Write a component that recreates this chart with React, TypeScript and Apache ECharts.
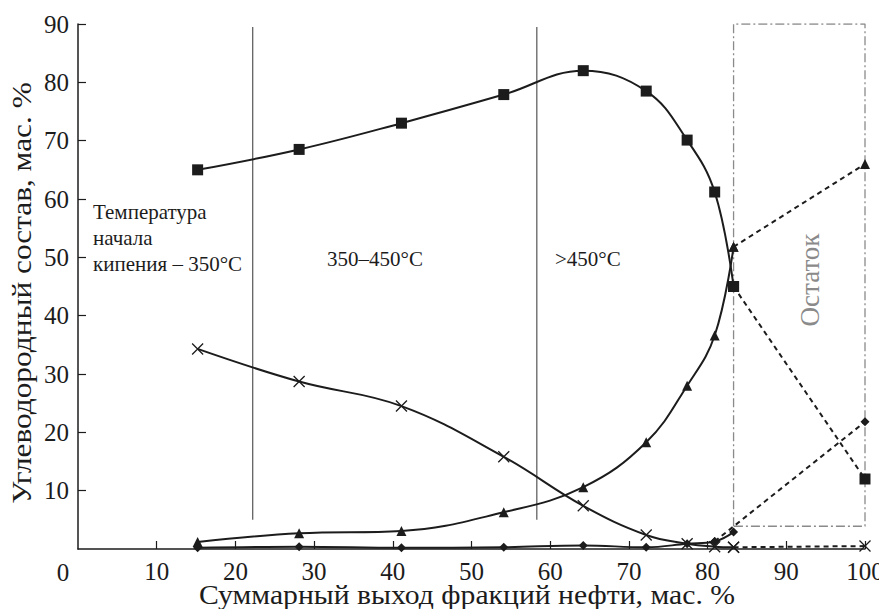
import React, { useEffect, useRef } from "react";
import * as echarts from "echarts";

// x positions of fractions (cumulative yield, wt %)
const xSolid = [15.2, 28.1, 41.1, 54.1, 64.2, 72.2, 77.4, 80.9, 83.3];
// series values
const squaresY = [65.0, 68.5, 73.0, 77.9, 82.0, 78.5, 70.1, 61.2, 45.0];
const trianglesY = [1.2, 2.7, 3.1, 6.3, 10.6, 18.3, 28.0, 36.6, 51.8];
const crossesY = [34.3, 28.7, 24.5, 15.8, 7.4, 2.4, 0.9, 0.4, 0.3];
const diamondsY = [0.2, 0.4, 0.2, 0.3, 0.6, 0.3, 0.9, 1.3, 2.9];
// residue (x = 100)
const residueX = 100;
const squaresRes = 12.0;
const trianglesRes = 66.0;
const crossesRes = 0.5;
const diamondsRes = 21.8;

const boundaryX = [22.2, 58.3];
const boundaryY = [5, 89.5];
const boxX = [83.3, 100];
const boxY = [3.9, 90];

const xTicks = [0, 10, 20, 30, 40, 50, 60, 70, 80, 90, 100];
const yTicks = [10, 20, 30, 40, 50, 60, 70, 80, 90];

const X_NAME = "Суммарный выход фракций нефти, мас. %";
const Y_NAME = "Углеводородный состав, мас. %";

const FONT = "'Liberation Serif', 'DejaVu Serif', serif";
const INK = "#1c1c1c";
const CROSS = "path://M0,0L10,10M10,0L0,10";
const TICK_FS = 25;
const NAME_FS = 27;
const NOTE_FS = 21;

function pairs(xs: number[], ys: number[]) {
  return xs.map((x, i) => [x, ys[i]]);
}

export default function App() {
  const ref = useRef<HTMLDivElement>(null);
  useEffect(() => {
    if (!ref.current) return;
    const chart = echarts.init(ref.current, undefined, { renderer: "svg" });

    const solid = (data: number[][], symbol: string, size: number, bw = 0) => ({
      type: "line",
      data,
      smooth: 0.4,
      symbol,
      symbolSize: size,
      lineStyle: { color: INK, width: 2 },
      itemStyle: { color: INK, borderColor: INK, borderWidth: bw },
      z: 3,
    });
    const dashed = (from: number[], to: number[], symbol: string, size: number, bw = 0) => ({
      type: "line",
      data: [from, to],
      symbol,
      symbolSize: size,
      showSymbol: true,
      lineStyle: { color: INK, width: 2, type: [5, 4] },
      itemStyle: { color: INK, borderColor: INK, borderWidth: bw },
      z: 3,
    });

    const sq = pairs(xSolid, squaresY);
    const tr = pairs(xSolid, trianglesY);
    const cr = pairs(xSolid, crossesY);
    const di = pairs(xSolid, diamondsY);

    const boxData = [
      [boxX[0], boxY[0]],
      [boxX[0], boxY[1]],
      [boxX[1], boxY[1]],
      [boxX[1], boxY[0]],
      [boxX[0], boxY[0]],
    ];

    chart.setOption({
      animation: false,
      backgroundColor: "#fff",
      grid: { left: 78, right: 22, top: 24, bottom: 60, containLabel: false, outerBoundsMode: "none" },
      xAxis: {
        type: "value",
        min: 0,
        max: 100,
        interval: 10,
        axisLine: { show: true, lineStyle: { color: INK, width: 1.5 } },
        axisTick: { show: true, inside: true, length: 8, lineStyle: { color: INK, width: 1.2 } },
        axisLabel: {
          fontFamily: FONT,
          fontSize: TICK_FS,
          color: INK,
          margin: 10,
          showMinLabel: false,
          formatter: (v: number) => (xTicks.includes(v) ? String(v) : ""),
        },
        splitLine: { show: false },
      },
      yAxis: {
        type: "value",
        min: 0,
        max: 90,
        interval: 10,
        axisLine: { show: true, lineStyle: { color: INK, width: 1.5 } },
        axisTick: { show: true, inside: true, length: 8, lineStyle: { color: INK, width: 1.2 } },
        axisLabel: {
          fontFamily: FONT,
          fontSize: TICK_FS,
          color: INK,
          margin: 9,
          showMinLabel: false,
          formatter: (v: number) => (yTicks.includes(v) ? String(v) : ""),
        },
        splitLine: { show: false },
      },
      graphic: [
        { type: "text", x: 63, y: 572, style: { text: "0", font: `${TICK_FS}px ${FONT}`, fill: INK, align: "center", verticalAlign: "middle" } },
        {
          type: "text",
          x: 467,
          y: 595,
          scaleX: 1.1,
          style: { text: X_NAME, font: `${NAME_FS}px ${FONT}`, fill: INK, align: "center", verticalAlign: "middle" },
        },
        {
          type: "text",
          x: 22,
          y: 293,
          rotation: Math.PI / 2,
          scaleX: 1.16,
          style: { text: Y_NAME, font: `${NAME_FS}px ${FONT}`, fill: INK, align: "center", verticalAlign: "middle" },
        },
        { type: "text", x: 93, y: 212, style: { text: "Температура", font: `${NOTE_FS}px ${FONT}`, fill: INK, verticalAlign: "middle" } },
        { type: "text", x: 93, y: 238, style: { text: "начала", font: `${NOTE_FS}px ${FONT}`, fill: INK, verticalAlign: "middle" } },
        { type: "text", x: 93, y: 264, style: { text: "кипения – 350°C", font: `${NOTE_FS}px ${FONT}`, fill: INK, verticalAlign: "middle" } },
        { type: "text", x: 327, y: 259, style: { text: "350–450°C", font: `${NOTE_FS}px ${FONT}`, fill: INK, verticalAlign: "middle" } },
        { type: "text", x: 555, y: 259, style: { text: ">450°C", font: `${NOTE_FS}px ${FONT}`, fill: INK, verticalAlign: "middle" } },
        {
          type: "text",
          x: 810,
          y: 280,
          rotation: Math.PI / 2,
          style: { text: "Остаток", font: `27px ${FONT}`, fill: "#8a8a8a", align: "center", verticalAlign: "middle" },
        },
      ],
      series: [
        ...boundaryX.map((bx) => ({
          type: "line",
          data: [[bx, boundaryY[0]], [bx, boundaryY[1]]],
          symbol: "none",
          lineStyle: { color: "#555", width: 1.2 },
          z: 1,
        })),
        {
          type: "line",
          data: boxData,
          symbol: "none",
          lineStyle: { color: "#8a8a8a", width: 1.3, type: [9, 3, 2, 3] },
          z: 1,
        },
        solid(sq, "rect", 11),
        solid(tr, "triangle", 10),
        solid(cr, CROSS, 11, 1.3),
        solid(di, "diamond", 9),
        dashed(sq[sq.length - 1], [residueX, squaresRes], "rect", 11),
        dashed(tr[tr.length - 1], [residueX, trianglesRes], "triangle", 10),
        dashed(cr[cr.length - 1], [residueX, crossesRes], CROSS, 11, 1.3),
        dashed(di[di.length - 2], [residueX, diamondsRes], "diamond", 9),
      ],
    });
    return () => chart.dispose();
  }, []);
  return <div ref={ref} style={{ width: 887, height: 609, marginLeft: -8, marginTop: -8 }} />;
}
